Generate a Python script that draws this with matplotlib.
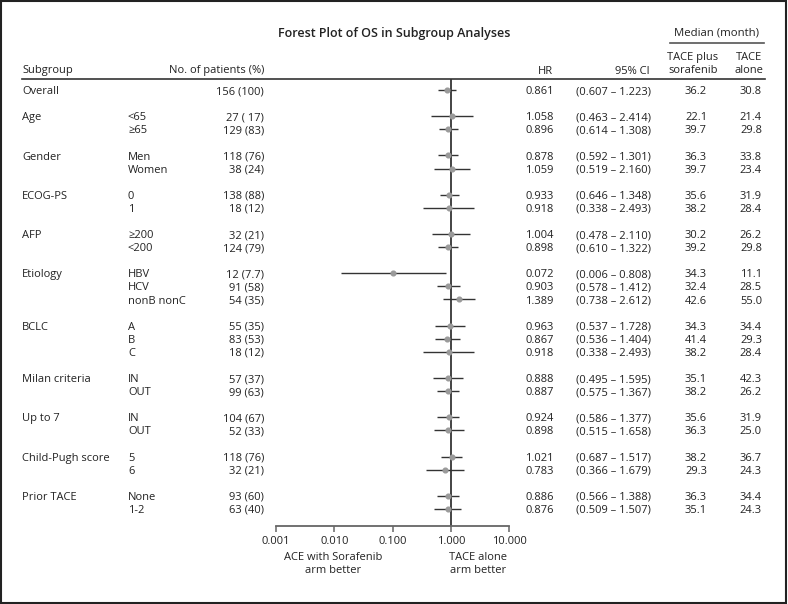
import matplotlib
matplotlib.use("Agg")
import matplotlib.pyplot as plt
import matplotlib.transforms as mtransforms
from matplotlib.patches import Rectangle
import numpy as np

plt.rcParams['font.family'] = ['Open Sans', 'DejaVu Sans']
plt.rcParams['font.size'] = 8

### --- table data
groups = ["Overall", "Age", "Gender", "ECOG-PS", "AFP", "Etiology", "BCLC",
          "Milan criteria", "Up to 7", "Child-Pugh score", "Prior TACE"]
levels = [[""], ["<65", "≥65"], ["Men", "Women"], ["0", "1"], ["≥200", "<200"],
          ["HBV", "HCV", "nonB nonC"], ["A", "B", "C"], ["IN", "OUT"], ["IN", "OUT"],
          ["5", "6"], ["None", "1-2"]]
patients = ["156 (100)", "27 ( 17)", "129 (83)", "118 (76)", "38 (24)", "138 (88)", "18 (12)",
            "32 (21)", "124 (79)", "12 (7.7)", "91 (58)", "54 (35)", "55 (35)", "83 (53)",
            "18 (12)", "57 (37)", "99 (63)", "104 (67)", "52 (33)", "118 (76)", "32 (21)",
            "93 (60)", "63 (40)"]
hr = [0.861, 1.058, 0.896, 0.878, 1.059, 0.933, 0.918, 1.004, 0.898, 0.072, 0.903, 1.389,
      0.963, 0.867, 0.918, 0.888, 0.887, 0.924, 0.898, 1.021, 0.783, 0.886, 0.876]
ci_low = [0.607, 0.463, 0.614, 0.592, 0.519, 0.646, 0.338, 0.478, 0.610, 0.006, 0.578, 0.738,
          0.537, 0.536, 0.338, 0.495, 0.575, 0.586, 0.515, 0.687, 0.366, 0.566, 0.509]
ci_high = [1.223, 2.414, 1.308, 1.301, 2.160, 1.348, 2.493, 2.110, 1.322, 0.808, 1.412, 2.612,
           1.728, 1.404, 2.493, 1.595, 1.367, 1.377, 1.658, 1.517, 1.679, 1.388, 1.507]
median_combo = [36.2, 22.1, 39.7, 36.3, 39.7, 35.6, 38.2, 30.2, 39.2, 34.3, 32.4, 42.6,
                34.3, 41.4, 38.2, 35.1, 38.2, 35.6, 36.3, 38.2, 29.3, 36.3, 35.1]
median_alone = [30.8, 21.4, 29.8, 33.8, 23.4, 31.9, 28.4, 26.2, 29.8, 11.1, 28.5, 55.0,
                34.4, 29.3, 28.4, 42.3, 26.2, 31.9, 25.0, 36.7, 24.3, 34.4, 24.3]

# the source figure draws the HBV row at about 0.10 (0.013 - 0.808), not at the tabled value
drawn_hbv = (0.102, 0.013, 0.808)

xticks = [0.001, 0.01, 0.1, 1, 10]
xtick_labels = ["0.001", "0.010", "0.100", "1.000", "10.000"]

W, H = 788, 604
TXT = "#222222"

def fx(px):
    return px / W

def fy(py):
    return 1 - py / H

### --- row slots: one blank slot between groups
slot_of_row = []
slot_of_group = []
s = 0
for g, lv in zip(groups, levels):
    slot_of_group.append(s)
    for _ in lv:
        slot_of_row.append(s)
        s += 1
    s += 1
slot_of_row = np.array(slot_of_row)

row_top_px, row_step_px = 90.0, 13.09
ax_top_px, ax_bot_px = 79.0, 525.6
ax_left_px, ax_right_px = 276.0, 509.3
dy_txt = 0.12   # small nudge so text sits on the row like the source

fig = plt.figure(figsize=(W / 100, H / 100), dpi=100)
ax = fig.add_axes([fx(ax_left_px), fy(ax_bot_px),
                   (ax_right_px - ax_left_px) / W, (ax_bot_px - ax_top_px) / H])
ax.set_xscale("log")
ax.set_xlim(0.001, 10)
ax.set_ylim((ax_bot_px - row_top_px) / row_step_px, (ax_top_px - row_top_px) / row_step_px)

plot_hr = list(hr)
plot_lo = list(ci_low)
plot_hi = list(ci_high)
plot_hr[9], plot_lo[9], plot_hi[9] = drawn_hbv

ax.hlines(slot_of_row, plot_lo, plot_hi, color="#333333", lw=1.0, zorder=2)
ax.plot(plot_hr, slot_of_row, "o", ms=3.4, color="#9a9a9a", mec="#9a9a9a", zorder=3)
ax.axvline(1, color="#111111", lw=1.1, zorder=1)

for sp in ["left", "top", "right"]:
    ax.spines[sp].set_visible(False)
ax.spines["bottom"].set_color("#666666")
ax.spines["bottom"].set_linewidth(1.3)
ax.set_yticks([])
ax.set_xticks(xticks)
ax.set_xticklabels(xtick_labels)
ax.minorticks_off()
ax.tick_params(axis="x", direction="out", length=4, width=1.1, color="#666666",
               labelcolor=TXT, labelsize=8, pad=3.5)

### --- table columns
tr = mtransforms.blended_transform_factory(fig.transFigure, ax.transData)
kw = dict(transform=tr, va="center", color=TXT, fontsize=8)
for g, sl in zip(groups, slot_of_group):
    ax.text(fx(22), sl + dy_txt, g, ha="left", **kw)
i = 0
for lv in levels:
    for name in lv:
        y = slot_of_row[i] + dy_txt
        ax.text(fx(128), y, name, ha="left", **kw)
        ax.text(fx(264), y, patients[i], ha="right", **kw)
        ax.text(fx(525), y, "%.3f" % hr[i], ha="left", **kw)
        ax.text(fx(651), y, "(%.3f – %.3f)" % (ci_low[i], ci_high[i]), ha="right", **kw)
        ax.text(fx(696), y, "%.1f" % median_combo[i], ha="center", **kw)
        ax.text(fx(762), y, "%.1f" % median_alone[i], ha="right", **kw)
        i += 1

### --- headers
hk = dict(color=TXT, fontsize=8, va="center")
fig.text(fx(394), fy(33), "Forest Plot of OS in Subgroup Analyses", ha="center",
         fontweight="semibold", color=TXT, fontsize=9, va="center")
fig.text(fx(717), fy(33), "Median (month)", ha="center", color=TXT, fontsize=8.2, va="center")
fig.add_artist(plt.Line2D([fx(670), fx(764)], [fy(43), fy(43)], color="#555555", lw=1.2))
fig.text(fx(693), fy(64), "TACE plus\nsorafenib", ha="center", multialignment="center", **hk)
fig.text(fx(763), fy(64), "TACE\nalone", ha="right", multialignment="center", **hk)
fig.text(fx(22), fy(71), "Subgroup", ha="left", **hk)
fig.text(fx(264), fy(71), "No. of patients (%)", ha="right", **hk)
fig.text(fx(553), fy(71), "HR", ha="right", **hk)
fig.text(fx(650), fy(71), "95% CI", ha="right", **hk)
fig.add_artist(plt.Line2D([fx(22), fx(765)], [fy(79), fy(79)], color="#333333", lw=1.2))

fig.text(fx(333), fy(564), "ACE with Sorafenib\narm better", ha="center",
         multialignment="center", **hk)
fig.text(fx(478), fy(564), "TACE alone\narm better", ha="center",
         multialignment="center", **hk)

fig.patches.append(Rectangle((0.001, 0.002), 0.996, 0.996, transform=fig.transFigure,
                             fill=False, lw=1.5, ec="#222222"))

fig.savefig("out.png", dpi=100)
